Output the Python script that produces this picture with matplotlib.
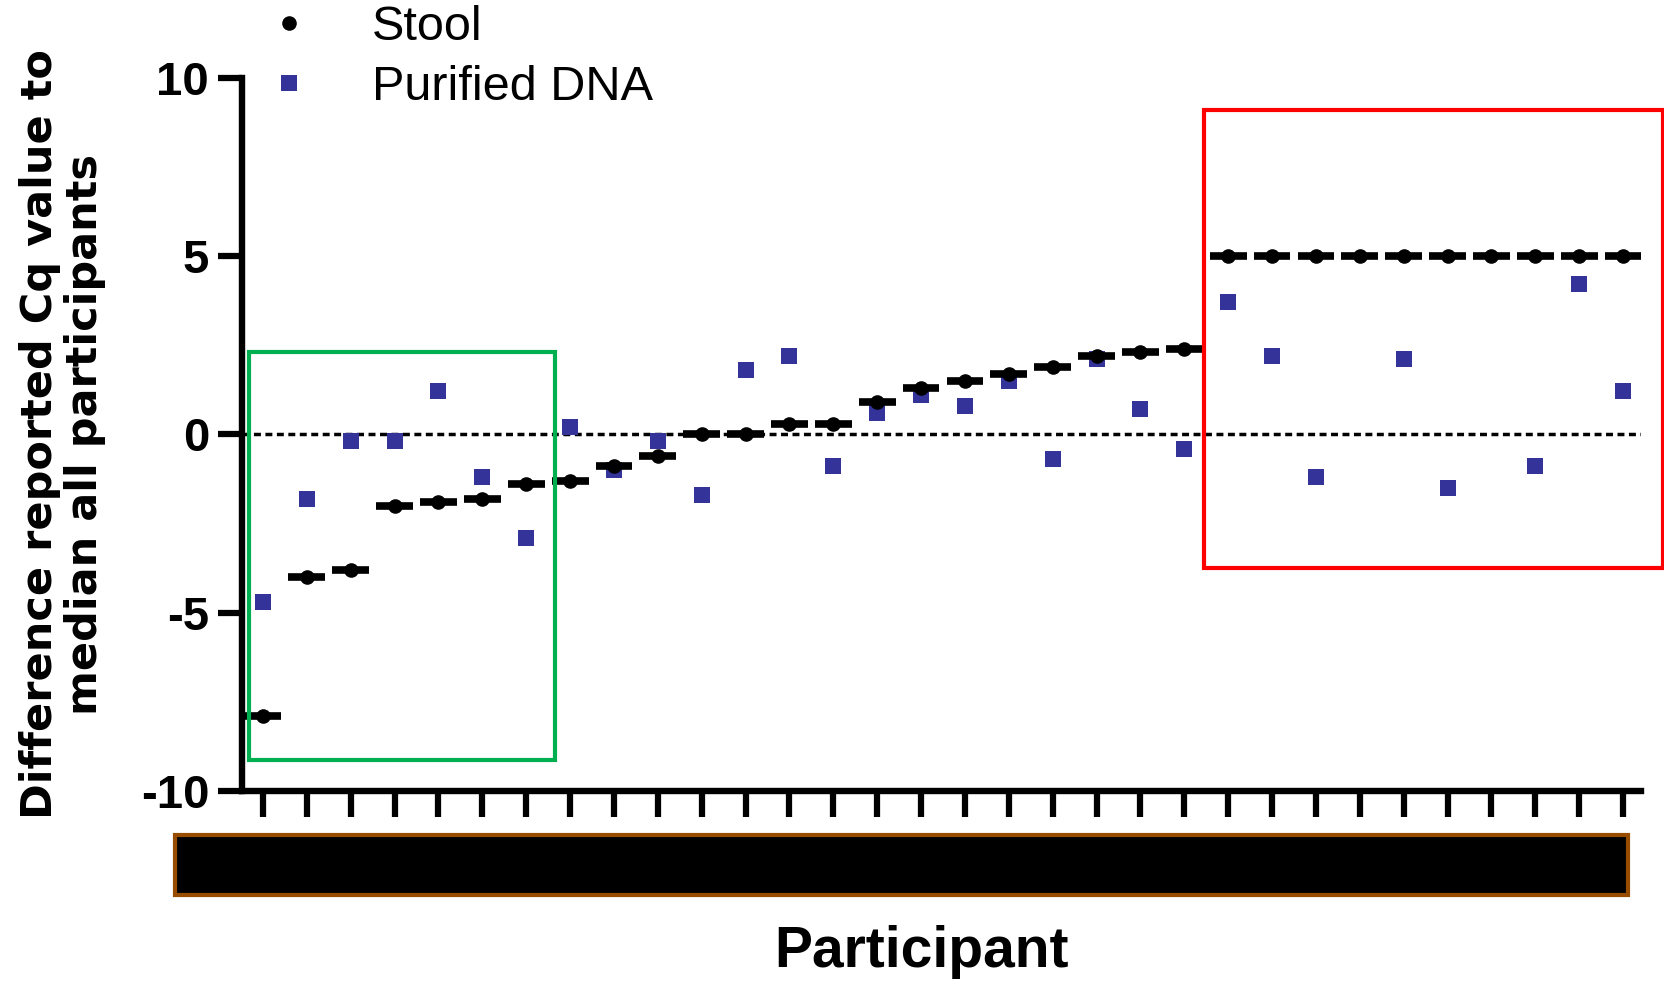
import numpy as np
import matplotlib
matplotlib.use("Agg")
import matplotlib.pyplot as plt
from matplotlib.patches import Rectangle

plt.rcParams['font.family'] = ['Liberation Sans', 'DejaVu Sans']
plt.rcParams['axes.unicode_minus'] = False

# values (difference to median, per participant)
participants = np.arange(1, 33)
stool = [-7.9, -4.0, -3.8, -2.0, -1.9, -1.8, -1.4, -1.3, -0.9, -0.6,
         0.0, 0.0, 0.3, 0.3, 0.9, 1.3, 1.5, 1.7, 1.9, 2.2,
         2.3, 2.4, 5.0, 5.0, 5.0, 5.0, 5.0, 5.0, 5.0, 5.0,
         5.0, 5.0]
purified = [-4.7, -1.8, -0.2, -0.2, 1.2, -1.2, -2.9, 0.2, -1.0, -0.2,
            -1.7, 1.8, 2.2, -0.9, 0.6, 1.1, 0.8, 1.5, -0.7, 2.1,
            0.7, -0.4, 3.7, 2.2, -1.2, np.nan, 2.1, -1.5, np.nan, -0.9,
            4.2, 1.2]
yticks = [-10, -5, 0, 5, 10]

fig = plt.figure(figsize=(16.65, 9.84), dpi=100)
ax = fig.add_axes([0.1453, 0.1961, 0.8403, 0.7251])

ax.axhline(0, color='black', lw=2.5, ls=(0, (2, 1.3)), zorder=1)
ax.plot(participants, purified, ls='none', marker='s', ms=11.5, mew=0,
        color='#333399', label='Purified DNA', zorder=2)
ax.hlines(stool, participants - 0.42, participants + 0.42, color='black',
          lw=5.5, zorder=3)
ax.plot(participants, stool, ls='none', marker='o', ms=10.5, mew=0,
        color='black', label='Stool', zorder=4)

# highlight boxes
ax.add_patch(Rectangle((0.69, -9.13), 6.97, 11.43, fill=False,
                       ec='#00B050', lw=3, clip_on=False, zorder=5))
ax.add_patch(Rectangle((22.44, -3.76), 10.46, 12.86, fill=False,
                       ec='#FF0000', lw=3, clip_on=False, zorder=5))

ax.set_xlim(0.52, 32.41)
ax.set_ylim(-10, 10)
ax.set_yticks(yticks)
ax.set_xticks(participants)
ax.tick_params(axis='x', length=19, width=4.5, labelbottom=False)
ax.tick_params(axis='y', length=17.6, width=4.5, pad=6, labelsize=34)
for lab in ax.get_yticklabels():
    lab.set_fontweight('bold')
for s in ['top', 'right']:
    ax.spines[s].set_visible(False)
for s in ['left', 'bottom']:
    ax.spines[s].set_linewidth(4.6)

ax.set_ylabel('Difference reported Cq value to\nmedian all participants',
              fontsize=31, fontweight='bold', va='center', linespacing=1.1,
              family='DejaVu Sans')
ax.yaxis.set_label_coords(-0.128, 0.5)
ax.set_xlabel('Participant', fontsize=41, fontweight='bold', va='center')
ax.xaxis.set_label_coords(0.486, -0.226)

h, l = ax.get_legend_handles_labels()
ax.legend([h[1], h[0]], [l[1], l[0]], loc='upper left',
          bbox_to_anchor=(265 / 1665, 0.9954), bbox_transform=fig.transFigure,
          frameon=False, fontsize=35, handlelength=1, handletextpad=1.2,
          borderpad=0, borderaxespad=0, labelspacing=0.31)

# redacted tick labels
fig.patches.append(Rectangle((0.1051, 0.0904), 0.8727, 0.061,
                             transform=fig.transFigure, fc='black',
                             ec='#974C00', lw=3))

fig.savefig('out.png', dpi=100)
